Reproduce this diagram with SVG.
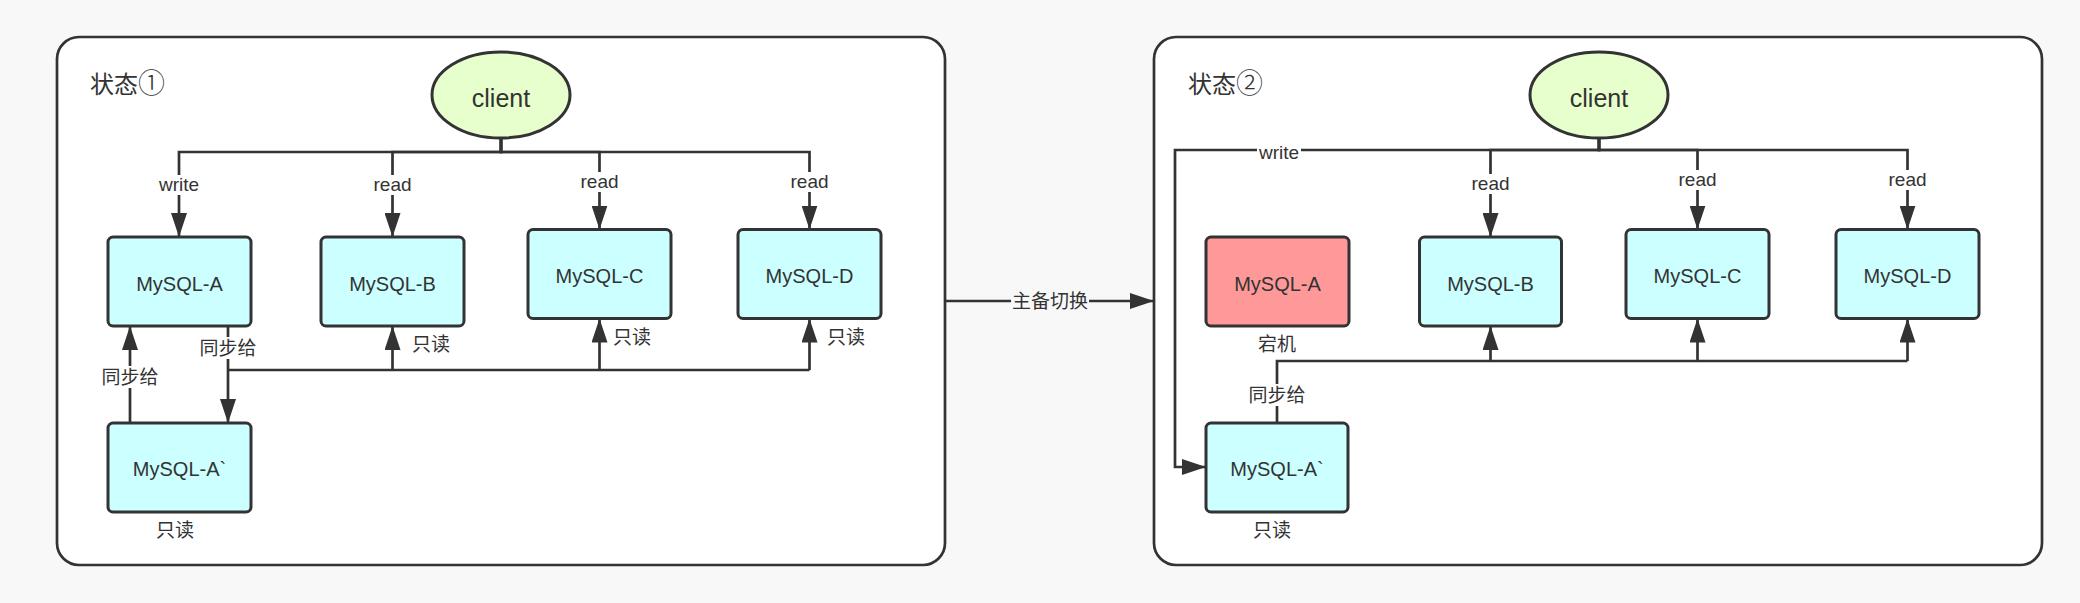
<svg xmlns="http://www.w3.org/2000/svg" width="2080" height="603" viewBox="0 0 2080 603">
<defs>
<marker id="arr" viewBox="0 0 24 16" refX="24" refY="8" markerWidth="24" markerHeight="16" markerUnits="userSpaceOnUse" orient="auto">
<path d="M0,0 L24,8 L0,16 z" fill="#333"/>
</marker>
<style>
text{font-family:"Liberation Sans","Noto Sans CJK SC",sans-serif;fill:#333;text-anchor:middle}
.frame{fill:#fff;stroke:#333;stroke-width:2.7}
.box{fill:#ccffff;stroke:#333;stroke-width:3}
.down{fill:#ff9999;stroke:#333;stroke-width:3}
.cl{fill:#e6ffcc;stroke:#333;stroke-width:3}
.c{fill:none;stroke:#333;stroke-width:2.7}
.a{marker-end:url(#arr)}
.nt{font-size:20px}
.lb{font-size:19px}
.ttl{font-size:24px;text-anchor:start;font-family:"Noto Sans CJK SC",sans-serif}
.num{font-family:"DejaVu Sans","Noto Sans CJK SC",sans-serif;font-size:27px;font-weight:200}
.bg{fill:#fff}
</style>
</defs>
<rect x="0" y="0" width="2080" height="603" fill="#f8f8f8"/>
<g id="frame1"><rect class="frame" x="57" y="37" width="888" height="528" rx="22"/><text class="ttl" x="90" y="93">状态<tspan class="num">①</tspan></text></g>
<g id="frame2"><rect class="frame" x="1154" y="37" width="888" height="528" rx="22"/><text class="ttl" x="1188" y="93">状态<tspan class="num">②</tspan></text></g>

<g id="connectors">
<!-- left panel -->
<path class="c a" d="M501,138 V152 H179 V237"/>
<path class="c a" d="M501,138 V152 H392.5 V237"/>
<path class="c a" d="M501,138 V152 H599.5 V229.5"/>
<path class="c a" d="M501,138 V152 H809.5 V229.5"/>
<path class="c a" d="M130,423 V326"/>
<path class="c a" d="M228,326 V423"/>
<path class="c" d="M228,370 H809.5"/>
<path class="c a" d="M392.5,370 V326"/>
<path class="c a" d="M599.5,370 V318.5"/>
<path class="c a" d="M809.5,370 V318.5"/>
<!-- switch -->
<path class="c a" d="M945,301 H1154"/>
<!-- right panel -->
<path class="c a" d="M1599,138 V150 H1175 V467 H1206"/>
<path class="c a" d="M1599,138 V150 H1490.5 V237"/>
<path class="c a" d="M1599,138 V150 H1697.5 V229.5"/>
<path class="c a" d="M1599,138 V150 H1907.5 V229.5"/>
<path class="c" d="M1277,423 V361 H1907.5"/>
<path class="c a" d="M1490.5,361 V326"/>
<path class="c a" d="M1697.5,361 V318.5"/>
<path class="c a" d="M1907.5,361 V318.5"/>
<!-- labels -->
<rect class="bg" x="157" y="175" width="44" height="20"/><text class="lb" x="179" y="191">write</text>
<rect class="bg" x="372" y="175" width="40" height="20"/><text class="lb" x="392.5" y="191">read</text>
<rect class="bg" x="579" y="172" width="40" height="20"/><text class="lb" x="599.5" y="188">read</text>
<rect class="bg" x="789" y="172" width="40" height="20"/><text class="lb" x="809.5" y="188">read</text>
<rect class="bg" x="101" y="366" width="58" height="22"/><text class="lb" x="130" y="384">同步给</text>
<rect class="bg" x="199" y="337" width="58" height="22"/><text class="lb" x="228" y="355">同步给</text>
<text class="lb" x="431" y="351">只读</text>
<text class="lb" x="632" y="344">只读</text>
<text class="lb" x="846" y="344">只读</text>
<rect x="1011" y="290" width="78" height="22" fill="#f8f8f8"/><text class="lb" x="1050" y="308">主备切换</text>
<rect class="bg" x="1257" y="143" width="44" height="18"/><text class="lb" x="1279" y="159">write</text>
<rect class="bg" x="1470" y="174" width="40" height="20"/><text class="lb" x="1490.5" y="190">read</text>
<rect class="bg" x="1677" y="170" width="40" height="20"/><text class="lb" x="1697.5" y="186">read</text>
<rect class="bg" x="1887" y="170" width="40" height="20"/><text class="lb" x="1907.5" y="186">read</text>
<rect class="bg" x="1248" y="384" width="58" height="22"/><text class="lb" x="1277" y="402">同步给</text>
</g>

<g id="client1"><ellipse class="cl" cx="501" cy="95" rx="69" ry="43"/><text x="501" y="107" style="font-size:25px">client</text></g>
<g id="mysqlA1"><rect class="box" x="108" y="237" width="143" height="89" rx="5"/><text class="nt" x="179.5" y="290.5">MySQL-A</text></g>
<g id="mysqlB1"><rect class="box" x="321" y="237" width="143" height="89" rx="5"/><text class="nt" x="392.5" y="290.5">MySQL-B</text></g>
<g id="mysqlC1"><rect class="box" x="528" y="229.5" width="143" height="89" rx="5"/><text class="nt" x="599.5" y="283">MySQL-C</text></g>
<g id="mysqlD1"><rect class="box" x="738" y="229.5" width="143" height="89" rx="5"/><text class="nt" x="809.5" y="283">MySQL-D</text></g>
<g id="mysqlA2_1"><rect class="box" x="108" y="423" width="143" height="89" rx="5"/><text class="nt" x="179.5" y="476">MySQL-A`</text><text class="lb" x="175" y="537">只读</text></g>

<g id="client2"><ellipse class="cl" cx="1599" cy="95" rx="69" ry="43"/><text x="1599" y="107" style="font-size:25px">client</text></g>
<g id="mysqlA2"><rect class="down" x="1206" y="237" width="143" height="89" rx="5"/><text class="nt" x="1277.5" y="290.5">MySQL-A</text><text class="lb" x="1277" y="351">宕机</text></g>
<g id="mysqlB2"><rect class="box" x="1419.5" y="237" width="142" height="89" rx="5"/><text class="nt" x="1490.5" y="290.5">MySQL-B</text></g>
<g id="mysqlC2"><rect class="box" x="1626" y="229.5" width="143" height="89" rx="5"/><text class="nt" x="1697.5" y="283">MySQL-C</text></g>
<g id="mysqlD2"><rect class="box" x="1836" y="229.5" width="143" height="89" rx="5"/><text class="nt" x="1907.5" y="283">MySQL-D</text></g>
<g id="mysqlA2_2"><rect class="box" x="1206" y="423" width="142" height="89" rx="5"/><text class="nt" x="1277" y="476">MySQL-A`</text><text class="lb" x="1272" y="537">只读</text></g>
</svg>
